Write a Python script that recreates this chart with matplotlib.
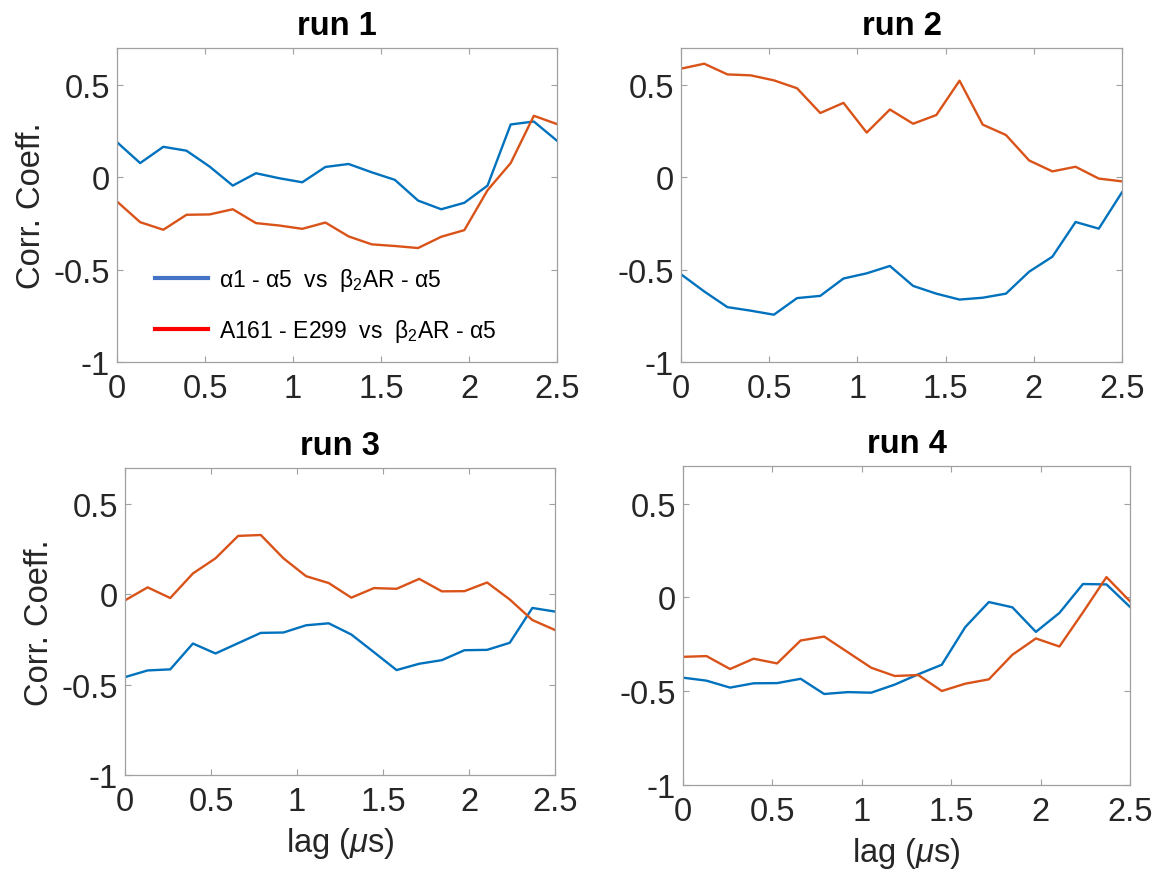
import numpy as np
import matplotlib
matplotlib.use("Agg")
import matplotlib.pyplot as plt
from matplotlib.lines import Line2D

plt.rcParams['font.family'] = ['Liberation Sans', 'DejaVu Sans']
plt.rcParams['mathtext.fontset'] = 'custom'
plt.rcParams['mathtext.rm'] = 'Liberation Sans'
plt.rcParams['mathtext.it'] = 'Liberation Sans:italic'
plt.rcParams['mathtext.bf'] = 'Liberation Sans:bold'

# lag axis (microseconds), 20 samples
lag = np.linspace(0.0, 2.5, 20)

run_titles = ["run 1", "run 2", "run 3", "run 4"]

# alpha1-alpha5 vs b2AR-alpha5 (blue)
blue_run1 = [0.19, 0.077, 0.165, 0.144, 0.058, -0.045, 0.022, -0.005, -0.027, 0.056,
             0.072, 0.027, -0.014, -0.126, -0.173, -0.138, -0.045, 0.286, 0.302, 0.198]
blue_run2 = [-0.525, -0.618, -0.703, -0.722, -0.744, -0.654, -0.642, -0.548, -0.52, -0.48,
             -0.588, -0.63, -0.662, -0.652, -0.63, -0.511, -0.43, -0.242, -0.278, -0.081]
blue_run3 = [-0.458, -0.421, -0.415, -0.272, -0.327, -0.27, -0.213, -0.211, -0.171, -0.16,
             -0.222, -0.32, -0.419, -0.384, -0.364, -0.309, -0.307, -0.268, -0.075, -0.095]
blue_run4 = [-0.428, -0.444, -0.481, -0.458, -0.457, -0.434, -0.515, -0.505, -0.508, -0.465,
             -0.41, -0.359, -0.158, -0.025, -0.053, -0.184, -0.083, 0.071, 0.069, -0.051]

# A161-E299 vs b2AR-alpha5 (orange)
orange_run1 = [-0.131, -0.243, -0.284, -0.203, -0.201, -0.173, -0.248, -0.261, -0.279, -0.245,
               -0.32, -0.363, -0.372, -0.383, -0.322, -0.286, -0.07, 0.077, 0.333, 0.288]
orange_run2 = [0.588, 0.615, 0.557, 0.552, 0.525, 0.482, 0.348, 0.403, 0.242, 0.367,
               0.29, 0.337, 0.523, 0.285, 0.229, 0.091, 0.032, 0.057, -0.007, -0.022]
orange_run3 = [-0.033, 0.039, -0.02, 0.116, 0.2, 0.324, 0.329, 0.2, 0.101, 0.063,
               -0.018, 0.035, 0.031, 0.086, 0.017, 0.018, 0.066, -0.028, -0.142, -0.197]
orange_run4 = [-0.317, -0.313, -0.382, -0.327, -0.352, -0.23, -0.209, -0.292, -0.375, -0.419,
               -0.414, -0.499, -0.46, -0.437, -0.306, -0.219, -0.262, -0.08, 0.108, -0.021]

blue_runs = [blue_run1, blue_run2, blue_run3, blue_run4]
orange_runs = [orange_run1, orange_run2, orange_run3, orange_run4]

legend_labels = [r"α1 - α5  vs  β$_2$AR - α5",
                 r"A161 - E299  vs  β$_2$AR - α5"]

xticks = [0, 0.5, 1, 1.5, 2, 2.5]
xtick_labels = ["0", "0.5", "1", "1.5", "2", "2.5"]
yticks = [-1, -0.5, 0, 0.5]
ytick_labels = ["-1", "-0.5", "0", "0.5"]

W, H = 1157, 879
fig = plt.figure(figsize=(W / 100, H / 100), dpi=100)

# axes boxes in pixels: left, top, right, bottom
boxes = [(117, 49, 557, 363), (681, 49, 1122, 363),
         (125, 469, 555, 776), (683, 467, 1130, 786)]

blue_c = '#0072BD'
orange_c = '#D95319'
spine_c = '#A0A0A0'
text_c = '#262626'
fs = 23.5

axes = []
for i, (l, t, r, b) in enumerate(boxes):
    ax = fig.add_axes([l / W, 1 - b / H, (r - l) / W, (b - t) / H])
    axes.append(ax)
    ax.plot(lag, blue_runs[i], color=blue_c, lw=1.7)
    ax.plot(lag, orange_runs[i], color=orange_c, lw=1.7)
    ax.set_xlim(0, 2.5)
    ax.set_ylim(-1, 0.7)
    ax.set_xticks(xticks)
    ax.set_xticklabels(xtick_labels)
    ax.set_yticks(yticks)
    ax.set_yticklabels(ytick_labels)
    ax.tick_params(direction='in', length=4, width=0.8, color=spine_c,
                   labelsize=fs, labelcolor=text_c, top=True, right=True)
    ax.tick_params(axis='x', pad=8)
    ax.tick_params(axis='y', pad=5)
    for s in ax.spines.values():
        s.set_color(spine_c)
        s.set_linewidth(0.9)
    ax.set_title(run_titles[i], fontsize=fs, fontweight='bold', pad=10, color='black')
    if i in (0, 2):
        ax.set_ylabel("Corr. Coeff.", fontsize=fs, color=text_c, labelpad=5)
    if i in (2, 3):
        ax.set_xlabel(r"lag ($\mu$s)", fontsize=fs, color=text_c, labelpad=6)

handles = [Line2D([0], [0], color='#4472C4', lw=3),
           Line2D([0], [0], color='red', lw=3)]
axes[0].legend(handles, legend_labels, loc='upper left', bbox_to_anchor=(0.086, 0.305),
               frameon=False, fontsize=16.5, handlelength=2.3, handletextpad=0.5,
               labelspacing=1.05, borderpad=0, borderaxespad=0)

fig.savefig("out.png", dpi=100)
